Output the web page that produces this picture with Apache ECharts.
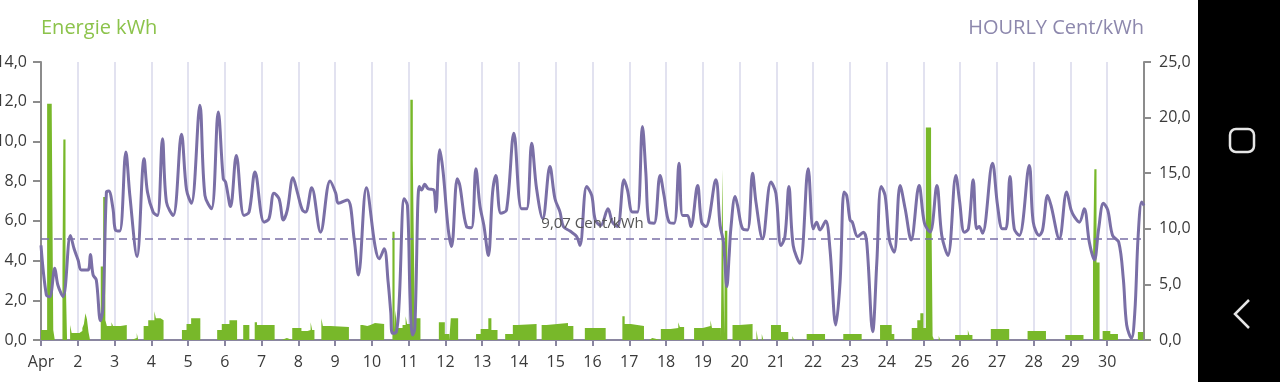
<!DOCTYPE html>
<html><head><meta charset="utf-8">
<script src="https://cdn.jsdelivr.net/npm/echarts@6/dist/echarts.min.js"></script>
<style>html,body{margin:0;padding:0;background:#fff;overflow:hidden}#c{width:1280px;height:382px}</style>
</head><body><div id="c"></div>
<script>
// x labels, one per day (hour offset = index*24)
const dayLabels = ['Apr','2','3','4','5','6','7','8','9','10','11','12','13','14','15','16','17','18','19','20','21','22','23','24','25','26','27','28','29','30'];
const energyTicks = [0, 2, 4, 6, 8, 10, 12, 14];
const priceTicks = [0, 5, 10, 15, 20, 25];
const avgPrice = 9.07;
// energy kWh: [hour since Apr 1 00:00, value held until next entry]
const energy = [[0,0.5],[4,11.9],[7,11.6],[8,0.5],[9,0],[14,3.6],[14.6,10.1],[16,3.6],[17,0],[19,0.75],[20,0.35],[25,0.45],[27,0.6],[28,0.8],[29,1.35],[30,1.05],[31,0.4],[32,0],[39,3.7],[40.6,7.2],[42,1.0],[43,0.7],[46,0.9],[47,0.7],[52,0.75],[56,0],[59,0.1],[62.5,0.35],[63.5,0],[67,0.7],[70,1.0],[74,1.45],[75,1.1],[78,1.0],[80,0],[92,0.5],[95,0.8],[98,1.1],[104,0],[115,0.5],[118,0.8],[123,1.0],[128,0],[132,0.75],[136,0],[139.5,0.9],[141,0.75],[152.5,0],[157,0.1],[160.5,0],[164,0.6],[170,0.45],[174,0.5],[176,0.9],[177,0.5],[178.5,0],[183,1.1],[184,0.7],[189,0.65],[201,0],[208.5,0.75],[210,0.7],[213,0.75],[215,0.85],[218,0.8],[224,0],[229.4,5.45],[230.8,0.5],[231.3,1.5],[232.5,0.6],[236,0.75],[238,1.2],[239,0.8],[241.1,12.1],[242.7,9.1],[244,1.1],[247.7,0],[259.7,0.9],[263.6,0.3],[266.5,0],[267.5,1.1],[272.3,0],[284,0.3],[287,0.55],[292,1.1],[294,0.5],[298,0],[303,0.3],[308,0.75],[311,0.8],[323.5,0],[326.8,0.75],[330,0.85],[344,0.7],[347.5,0],[355,0.6],[368.6,0],[379.5,1.2],[381,0.8],[385,0.7],[393.6,0],[397,0.1],[399,0],[404.6,0.55],[411,0.6],[416,0.9],[417,0.65],[419.8,0],[426.3,0.6],[432,0.7],[437,1.0],[438,0.6],[443.8,0],[444.7,8.6],[446,0.3],[446.4,5.5],[448,0],[451.4,0.75],[456,0.8],[464.5,0],[467,0.5],[468,0],[470.5,0.3],[471.5,0],[476.5,0.75],[483,0.4],[487.8,0],[490.5,0.2],[491.5,0],[499.8,0.3],[511.8,0],[523.7,0.3],[535.7,0],[547.7,0.75],[550,0.85],[551,0.75],[555.3,0.3],[557,0],[568.4,0.6],[572,1.0],[574,1.35],[576,0.6],[577.6,10.7],[581,8.4],[582,0.2],[583,0],[586,0.2],[587,0],[596.7,0.25],[605,0.5],[606,0.25],[608,0],[620,0.55],[632,0],[644,0.45],[656,0],[668.6,0.25],[680.5,0],[686.7,3.9],[687.6,8.6],[689,3.9],[691,0],[693,0.45],[698,0.3],[703,0],[716,0.4],[719.5,0],[720,0]];
// hourly price Cent/kWh: [hour since Apr 1 00:00, value]
const price = [[0,8.5],[3.5,4.05],[5.7,3.9],[9,6.45],[11,4.95],[14.4,3.9],[19.2,9.4],[21.6,8.2],[24.2,7.2],[26.3,6.3],[30.7,6.3],[32.2,7.7],[34,5.85],[36.1,5.4],[38.8,1.74],[40.5,2.9],[42.7,13.3],[44.2,13.4],[47,11.8],[48.6,9.9],[51.4,9.8],[55.4,16.9],[58,13.0],[62.7,7.5],[67.3,16.3],[69.5,13.3],[73.2,11.5],[76,11.2],[79.3,18.1],[81.9,12.4],[86.3,11.2],[91.7,18.5],[95,13.5],[98.2,12.3],[103.7,21.1],[107,13.0],[111.3,11.8],[115.7,20.5],[119,14.5],[120.5,14.2],[123.7,12.0],[127.5,16.6],[132.5,11.2],[135.8,11.5],[139.7,15.1],[145.6,10.6],[148.8,10.9],[152.1,13.2],[155.4,12.7],[158.2,10.8],[160.8,11.7],[164.5,14.6],[167.3,13.3],[170.6,11.7],[172.7,11.5],[176.7,13.7],[182.5,9.7],[188.7,14.3],[192.4,13.2],[194.1,12.3],[200,12.6],[204.4,9.1],[207.2,5.85],[212.4,13.7],[218.1,8.4],[220.7,7.3],[224,8.2],[226.6,5.2],[228.3,2.5],[229.4,0.6],[232,0.75],[233.8,3.4],[237.1,12.7],[239.2,12.1],[240.9,4.0],[242.5,0.45],[244,1.05],[246.9,13.8],[248.4,13.5],[250.5,14.0],[252.7,13.6],[256.4,13.5],[257.7,11.5],[260.3,17.1],[262.5,15.1],[265.8,10.0],[268,8.4],[271.7,14.5],[273.4,13.9],[277.8,10.2],[281,10.1],[283.9,15.4],[286.5,12.1],[289.1,10.3],[292,7.6],[294.8,13.3],[296.9,14.8],[300.2,11.4],[303.9,11.7],[308.7,18.6],[313.7,11.8],[317,11.8],[320.3,17.7],[323.5,13.6],[327.5,10.9],[332.2,15.6],[335.5,12.7],[338.8,11.5],[341,10.2],[345.3,9.8],[349.7,9.3],[351.8,8.5],[356.2,13.8],[359.5,13.0],[361.8,10.8],[365.4,10.3],[370.1,11.8],[373,10.6],[376.3,10.2],[380.6,14.4],[382.8,13.5],[386.1,11.5],[389.3,11.5],[392.6,19.2],[394.8,15.1],[396.9,10.6],[400.2,10.5],[404.1,14.8],[406.7,13.0],[410,10.6],[413.3,10.5],[416.5,15.9],[418.8,11.2],[422,11.2],[424.2,10.2],[428.6,13.9],[431.2,10.6],[434,10.2],[440.5,14.4],[443.3,10.3],[445.5,8.8],[447.7,4.8],[449.2,7.6],[450.3,10.0],[453.1,12.9],[454.7,12.1],[458,10.0],[461.2,9.9],[464.5,15.0],[466.7,12.4],[471,9.1],[476.5,14.2],[479.7,13.2],[483,8.5],[485.6,9.3],[488.2,13.8],[491,8.5],[495.4,6.9],[500.8,15.4],[504.1,10.0],[506.3,10.6],[508.5,9.9],[512.2,10.7],[515,8.2],[518.8,1.35],[521.6,5.2],[524.2,13.3],[525.9,13.0],[528.1,10.8],[529.6,10.6],[533.1,9.3],[536.8,9.7],[539,8.8],[542.9,0.75],[545.6,7.0],[548.4,13.8],[551,13.0],[553.8,9.0],[556.9,7.9],[560.8,13.9],[564.1,11.8],[568,9.0],[573.2,13.9],[576.7,10.5],[580.4,9.7],[584.8,13.9],[588,9.4],[592,7.6],[597.2,14.8],[599.6,12.5],[602.7,9.7],[605.4,10.0],[608.5,14.4],[610.7,10.0],[612.4,10.2],[614.6,9.6],[621.1,15.9],[624.4,12.1],[627.6,10.0],[629.9,10.0],[632.5,14.7],[635.3,10.0],[638.6,9.4],[645.1,15.7],[647.7,10.6],[651.6,9.4],[653.8,9.9],[657.1,13.0],[659.3,12.1],[664.7,9.1],[669.5,13.3],[672.4,11.7],[674.5,11.1],[677.8,10.6],[681,11.8],[684.3,8.8],[687.6,7.2],[690.4,10.0],[693.5,12.3],[696.3,11.7],[699.5,9.4],[703.5,8.8],[706.5,5.5],[708.7,1.35],[711.8,0.15],[714,2.5],[716.2,9.4],[718.5,12.4],[720,12.1]];

const fmt = v => v.toFixed(1).replace('.', ',');
const FONT = '"Open Sans", sans-serif';
const chart = echarts.init(document.getElementById('c'), null, {renderer: 'canvas'});
chart.setOption({
  animation: false,
  backgroundColor: '#ffffff',
  textStyle: {fontFamily: FONT},
  title: [
    {text: 'Energie kWh', left: 41, top: 18, padding: 0, textStyle: {color: '#8cc34b', fontSize: 20, fontWeight: 'normal', fontFamily: FONT}},
    {text: 'HOURLY Cent/kWh', right: 136, top: 18, padding: 0, textStyle: {color: '#8d88ad', fontSize: 20, fontWeight: 'normal', fontFamily: FONT}}
  ],
  grid: {left: 41, right: 136, top: 62, bottom: 42, containLabel: false, outerBoundsMode: 'none'},
  xAxis: {
    type: 'value', min: 0, max: dayLabels.length * 24, interval: 24,
    axisLine: {show: true, lineStyle: {color: '#8a86a0', width: 2}},
    axisTick: {show: true, length: 6, lineStyle: {color: '#8a86a0', width: 2}},
    axisLabel: {margin: 14, fontSize: 16, color: '#3a3a3a', fontFamily: FONT, showMaxLabel: false,
      formatter: v => { const i = Math.round(v / 24); return i < dayLabels.length ? dayLabels[i] : ''; }},
    splitLine: {show: true, lineStyle: {color: '#e2e2f0', width: 2}}
  },
  yAxis: [
    {type: 'value', min: energyTicks[0], max: energyTicks[energyTicks.length - 1], interval: energyTicks[1] - energyTicks[0], position: 'left',
      axisLine: {show: true, lineStyle: {color: '#8c8c8c', width: 2}},
      axisTick: {show: true, length: 8, lineStyle: {color: '#8c8c8c', width: 2}},
      axisLabel: {margin: 14, fontSize: 16, color: '#3a3a3a', fontFamily: FONT, formatter: fmt},
      splitLine: {show: false}},
    {type: 'value', min: priceTicks[0], max: priceTicks[priceTicks.length - 1], interval: priceTicks[1] - priceTicks[0], position: 'right',
      axisLine: {show: true, lineStyle: {color: '#8c8c8c', width: 2}},
      axisTick: {show: true, length: 7, lineStyle: {color: '#8c8c8c', width: 2}},
      axisLabel: {margin: 15, fontSize: 16, color: '#3a3a3a', fontFamily: FONT, formatter: fmt},
      splitLine: {show: false}}
  ],
  series: [
    {name: 'Energie', type: 'line', yAxisIndex: 0, data: energy, step: 'end', symbol: 'none',
      lineStyle: {width: 0}, areaStyle: {color: '#78b82a', opacity: 1}, itemStyle: {color: '#78b82a'}, z: 2, silent: true},
    {name: 'Preis', type: 'line', yAxisIndex: 1, data: price, smooth: 0.35, symbol: 'none',
      lineStyle: {color: '#7a6fa6', width: 3}, itemStyle: {color: '#7a6fa6'}, z: 3, silent: true,
      markLine: {silent: true, symbol: 'none', data: [{yAxis: avgPrice}],
        lineStyle: {type: [8, 5], color: '#7a6fa6', width: 1.5},
        label: {position: 'middle', distance: 8, formatter: avgPrice.toFixed(2).replace('.', ',') + ' Cent/kWh', color: '#555', fontSize: 15, fontFamily: FONT}}}
  ],
  graphic: [
    {type: 'rect', shape: {x: 1198, y: 0, width: 82, height: 382}, style: {fill: '#000'}, z: 100},
    {type: 'rect', shape: {x: 1230, y: 129, width: 24, height: 23, r: 6}, style: {fill: 'none', stroke: '#e6e6e6', lineWidth: 2.5}, z: 101},
    {type: 'polyline', shape: {points: [[1249, 300], [1235, 314], [1249, 328]]}, style: {fill: 'none', stroke: '#e6e6e6', lineWidth: 2.5}, z: 101}
  ]
});
</script>
</body></html>
